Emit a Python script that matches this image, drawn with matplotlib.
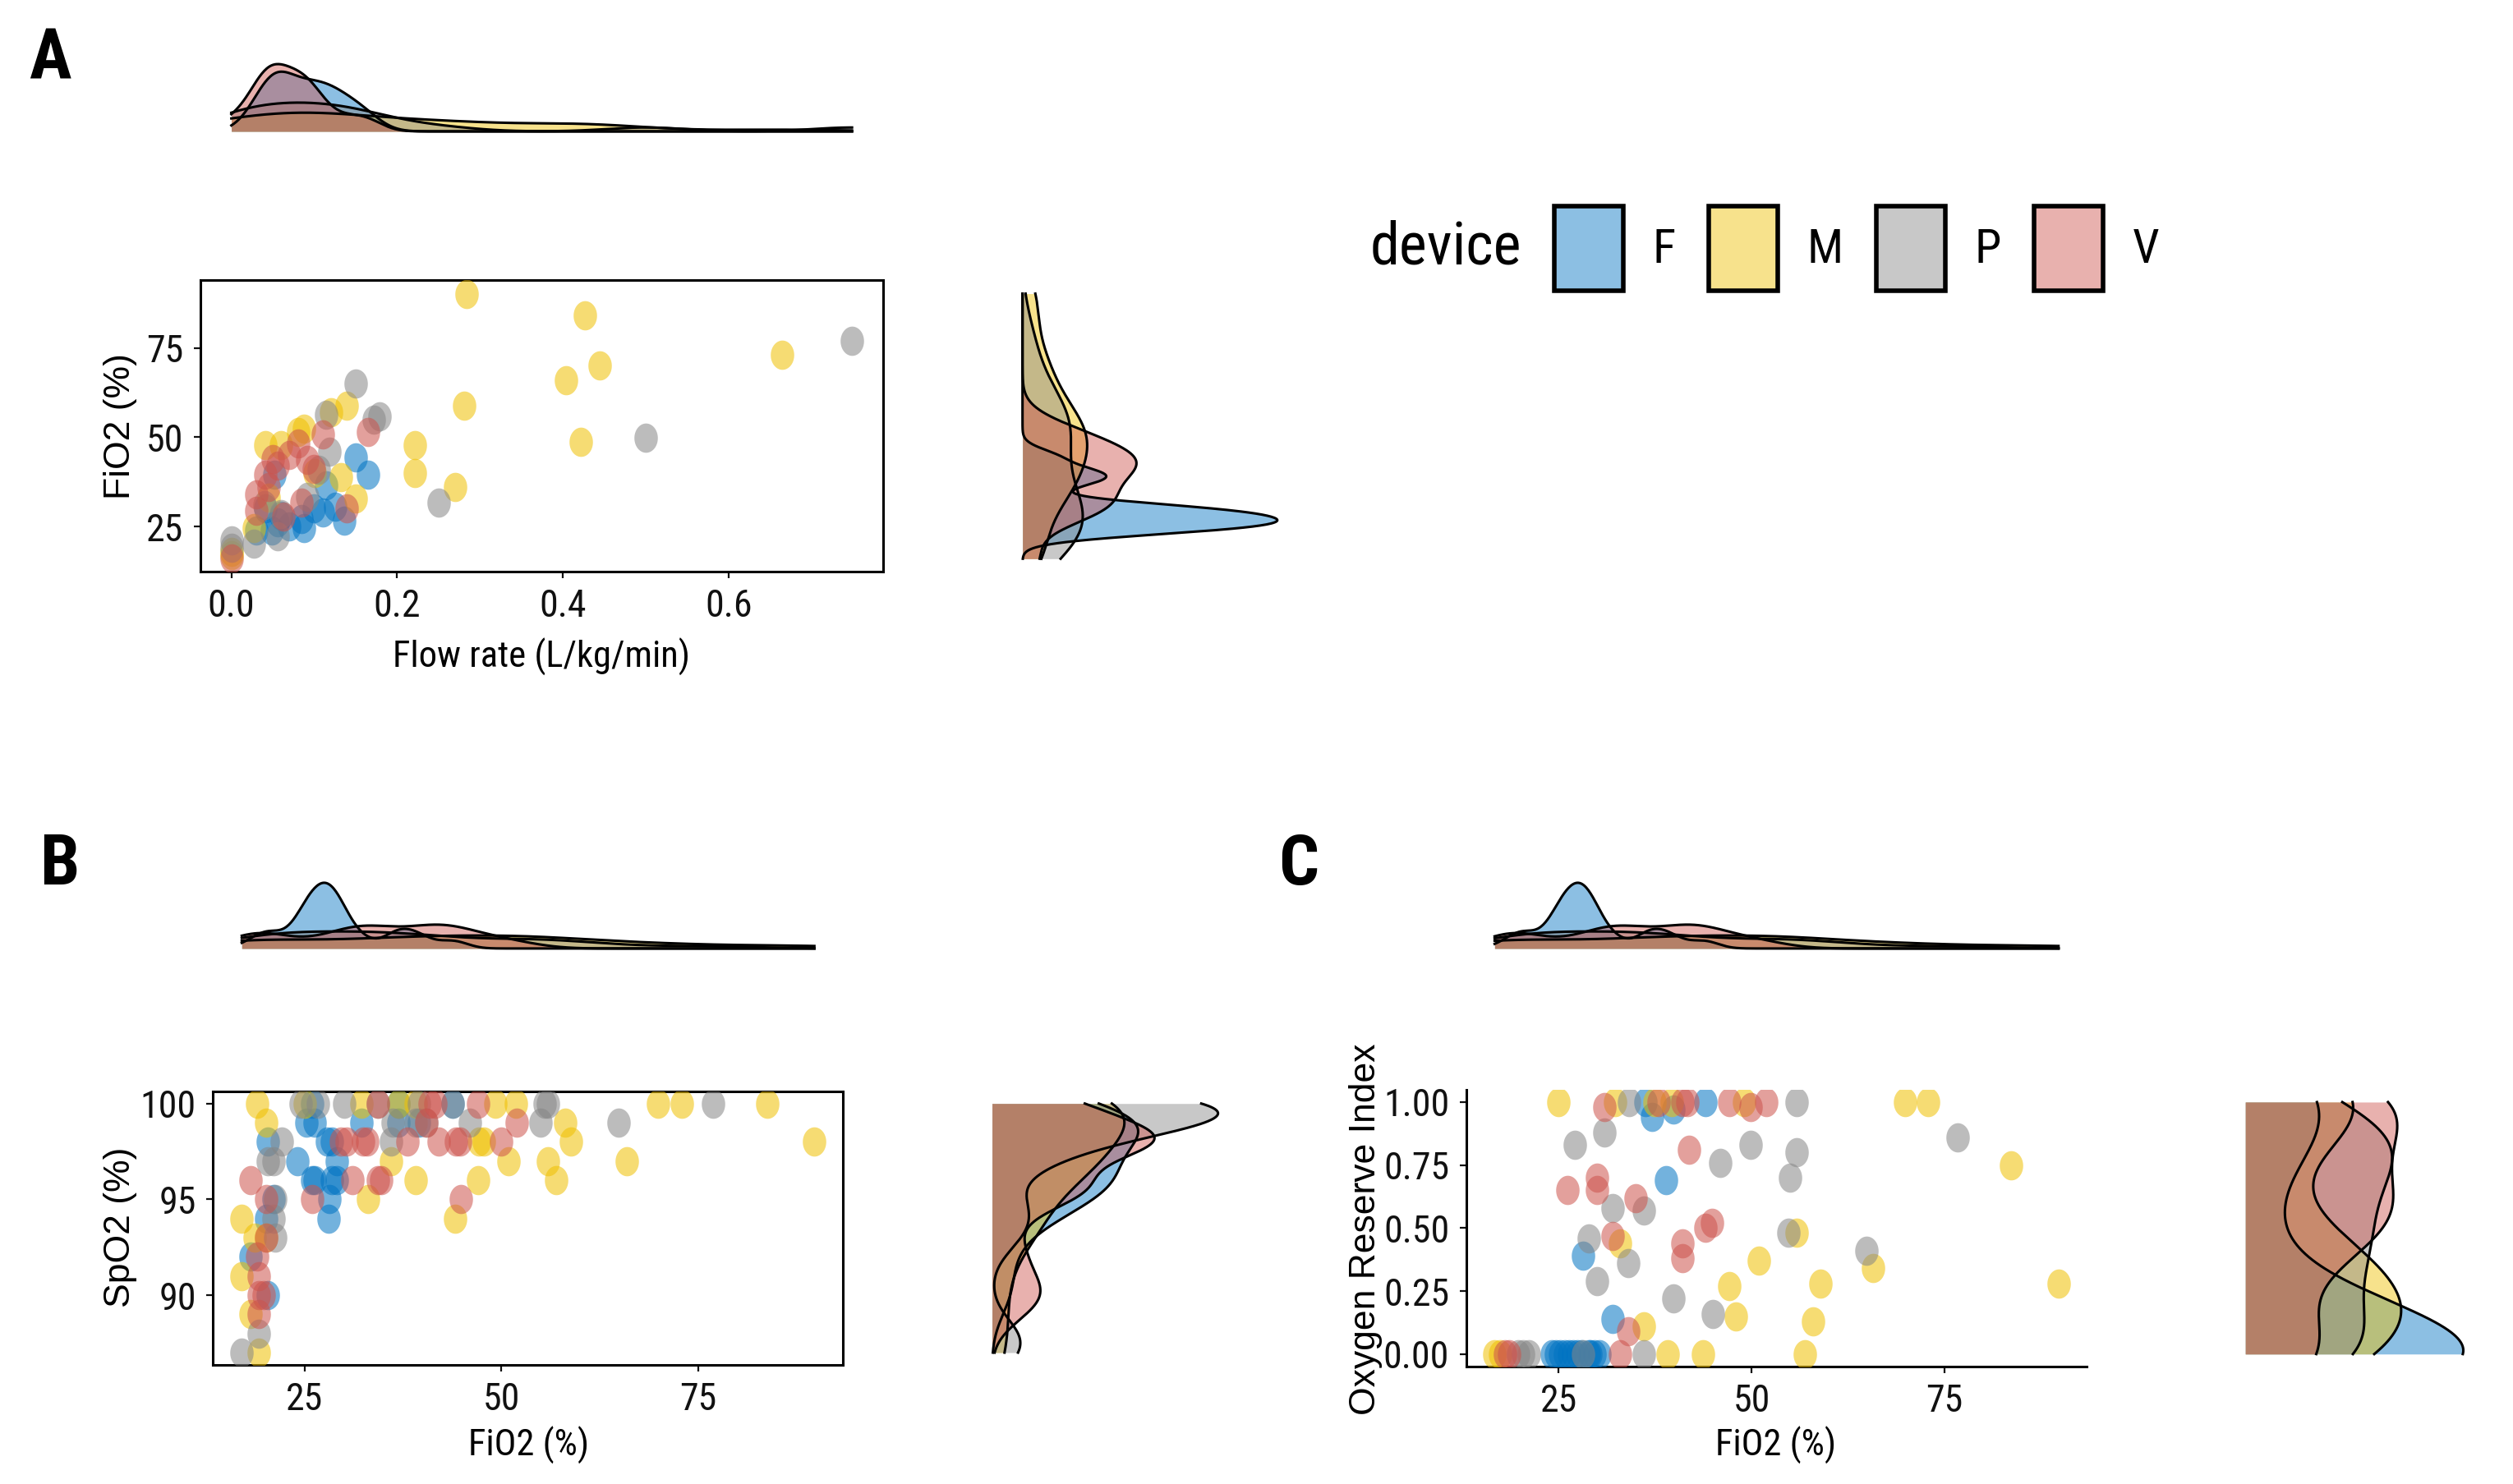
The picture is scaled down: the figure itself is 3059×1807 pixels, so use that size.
import numpy as np
import matplotlib
matplotlib.use('Agg')
import matplotlib.pyplot as plt
from matplotlib.patches import Patch
from matplotlib import font_manager
from matplotlib.colors import to_rgba

W, H = 3059, 1807
S = W / 1568  # layout below is measured on a 1568 px wide view

# ---- data ----
devices = ['F', 'M', 'P', 'V']
colors = ['#0073C2', '#EFC000', '#868686', '#CD534C']

# panel A: flow rate vs FiO2
flowA_F = [0.150, 0.165, 0.114, 0.085, 0.088, 0.125, 0.136, 0.056, 0.049, 0.041, 0.052, 0.099, 0.070, 0.060, 0.030, 0.110]
fio2A_F = [44.4, 39.6, 36.5, 27.0, 24.6, 30.5, 26.6, 26.2, 23.8, 30.1, 39.6, 30.1, 25.0, 28.0, 24.0, 29.0]
flowA_M = [0.284, 0.427, 0.665, 0.444, 0.404, 0.281, 0.422, 0.221, 0.221, 0.270, 0.139, 0.120, 0.088, 0.041,
           0.060, 0.081, 0.132, 0.150, 0.0, 0.027, 0.045, 0.100, 0.0]
fio2A_M = [90.2, 84.1, 73.0, 70.0, 65.9, 58.8, 48.7, 47.7, 40.0, 36.1, 58.8, 57.0, 52.3, 47.9,
           47.9, 51.5, 38.8, 32.9, 17.0, 24.6, 33.0, 40.0, 18.0]
flowA_P = [0.749, 0.500, 0.250, 0.150, 0.179, 0.172, 0.114, 0.118, 0.092, 0.056, 0.027, 0.0, 0.0, 0.060, 0.105, 0.040]
fio2A_P = [76.9, 49.9, 31.7, 65.0, 55.8, 55.0, 56.2, 45.9, 33.3, 22.2, 20.3, 21.1, 19.1, 28.6, 41.0, 31.0]
flowA_V = [0.165, 0.110, 0.081, 0.056, 0.041, 0.030, 0.030, 0.070, 0.092, 0.099, 0.139, 0.085, 0.063, 0.0, 0.050, 0.045]
fio2A_V = [51.5, 50.7, 48.3, 42.0, 39.6, 34.1, 29.3, 45.1, 43.6, 41.2, 30.1, 31.7, 27.8, 16.0, 44.0, 36.0]

# panel B: FiO2 vs SpO2
fio2B_F = [25.9, 36.9, 43.8, 25.2, 26.3, 32.2, 36.9, 39.5, 20.3, 27.8, 28.5, 24.1, 29.1,
           26.0, 26.3, 28.5, 29.1, 21.0, 28.1, 20.1, 28.0, 18.1, 20.3]
spo2B_F = [100, 100, 100, 99, 99, 99, 99, 99, 98, 98, 98, 97, 97,
           96, 96, 96, 96, 95, 95, 94, 94, 92, 90]
fio2B_M = [19.0, 25.0, 32.2, 36.9, 39.1, 49.2, 51.9, 69.9, 72.9, 83.8, 20.1, 58.1, 47.1, 47.8, 58.9, 89.8,
           36.0, 50.9, 55.9, 66.0, 39.1, 47.0, 57.0, 33.0, 17.0, 44.1, 18.6, 20.1, 17.0, 18.1, 19.2]
spo2B_M = [100, 100, 100, 100, 100, 100, 100, 100, 100, 100, 99, 99, 98, 98, 98, 98,
           97, 97, 97, 97, 96, 96, 96, 95, 94, 94, 93, 93, 91, 89, 87]
fio2B_P = [24.5, 26.7, 30.0, 34.3, 39.5, 43.8, 55.5, 55.9, 76.9, 36.2, 39.1, 40.5, 46.0, 55.0, 64.9,
           22.1, 36.0, 20.3, 21.0, 21.2, 21.0, 21.2, 19.2, 17.0]
spo2B_P = [100, 100, 100, 100, 100, 100, 100, 100, 100, 99, 99, 99, 99, 99, 99,
           98, 98, 97, 97, 95, 94, 93, 88, 87]
fio2B_V = [34.3, 40.9, 41.6, 47.0, 40.5, 52.0, 29.6, 30.3, 32.4, 32.9, 38.1, 42.0, 44.2, 44.8, 50.0,
           18.1, 31.1, 34.3, 34.7, 20.1, 26.0, 44.9, 20.1, 19.0, 19.2, 19.2, 19.8, 19.2]
spo2B_V = [100, 100, 100, 100, 99, 99, 98, 98, 98, 98, 98, 98, 98, 98, 98,
           96, 96, 96, 96, 95, 95, 95, 93, 92, 91, 90, 90, 89]

# panel C: FiO2 vs Oxygen Reserve Index (several F points stacked at 0)
fio2C_F = [36.3, 37.1, 39.9, 44.0, 38.9, 28.2, 32.0, 24.1, 25.2, 26.3, 28.9, 29.6, 30.3, 27.4,
           24.6, 25.8, 26.9, 27.9, 29.1]
oriC_F = [1.0, 0.94, 0.97, 1.0, 0.69, 0.39, 0.14, 0, 0, 0, 0, 0, 0, 0,
          0, 0, 0, 0, 0]
fio2C_M = [25.0, 32.3, 37.4, 39.7, 49.0, 69.9, 72.9, 83.7, 55.8, 33.0, 51.0, 65.8, 58.9, 89.8, 47.1,
           48.0, 58.0, 36.0, 16.7, 17.4, 39.1, 43.7, 56.9]
oriC_M = [1, 1, 1, 1, 1, 1, 1, 0.75, 0.48, 0.44, 0.37, 0.34, 0.28, 0.28, 0.27,
          0.15, 0.13, 0.11, 0, 0, 0, 0, 0]
fio2C_P = [34.1, 55.8, 30.9, 27.1, 49.9, 55.8, 76.7, 46.0, 55.0, 32.0, 36.0, 54.8, 28.9, 64.9, 34.0,
           30.0, 39.9, 45.0, 19.7, 20.4, 21.1, 28.2, 36.0]
oriC_P = [1, 1, 0.88, 0.83, 0.83, 0.80, 0.86, 0.76, 0.70, 0.58, 0.57, 0.48, 0.46, 0.41, 0.36,
          0.29, 0.22, 0.16, 0, 0, 0, 0, 0]
fio2C_V = [30.9, 38.0, 41.1, 41.7, 47.1, 49.9, 51.9, 41.9, 30.0, 30.0, 26.1, 35.0, 44.9, 44.0, 32.0,
           41.0, 41.0, 34.0, 18.0, 18.6, 33.0]
oriC_V = [0.98, 1, 1, 1, 1, 0.98, 1, 0.81, 0.70, 0.65, 0.65, 0.62, 0.52, 0.50, 0.47,
          0.44, 0.38, 0.09, 0, 0, 0]

# ---- fonts ----
names = {f.name for f in font_manager.fontManager.ttflist}
narrow = 'Roboto Condensed' if 'Roboto Condensed' in names else 'Liberation Sans'
plt.rcParams['font.family'] = [narrow, 'DejaVu Sans']


def rect(x0, y0, x1, y1):
    # box in view px (top-left origin) -> figure fraction
    return [x0 * S / W, 1 - y1 * S / H, (x1 - x0) * S / W, (y1 - y0) * S / H]


def fx(x):
    return x * S / W


def fy(y):
    return 1 - y * S / H


def bw_nrd0(x):
    x = np.asarray(x, float)
    hi = x.std(ddof=1)
    q75, q25 = np.percentile(x, [75, 25])
    lo = min(hi, (q75 - q25) / 1.34)
    if lo == 0:
        lo = hi or abs(x[0]) or 1
    return 0.9 * lo * len(x) ** (-0.2)


def kde(x, grid):
    x = np.asarray(x, float)
    bw = bw_nrd0(x)
    z = (grid[:, None] - x[None, :]) / bw
    return np.exp(-0.5 * z ** 2).sum(1) / (len(x) * bw * np.sqrt(2 * np.pi))


def limits(groups):
    allv = np.concatenate([np.asarray(g, float) for g in groups])
    lo, hi = allv.min(), allv.max()
    pad = 0.05 * (hi - lo)
    return lo, hi, (lo - pad, hi + pad)


t = np.linspace(0, 2 * np.pi, 48)
ellipse = np.column_stack([0.8 * np.cos(t), np.sin(t)])

fig = plt.figure(figsize=(W / 100, H / 100), dpi=100)


def panel(sbox, tbox, rbox, xs, ys, xt, yt, yfmt, full_box, top_xs=None):
    ax = fig.add_axes(rect(*sbox))
    for x, y, c in zip(xs, ys, colors):
        ax.scatter(x, y, s=660, marker=ellipse, color=c, alpha=0.55, linewidths=0, zorder=3)
    xlo, xhi, xlim = limits(xs)
    ylo, yhi, ylim = limits(ys)
    ax.set_xlim(xlim)
    ax.set_ylim(ylim)
    ax.set_xticks(xt)
    ax.set_yticks(yt)
    ax.set_yticklabels([yfmt.format(v) for v in yt])
    ax.tick_params(direction='out', length=6, width=1.6, labelsize=33, colors='#111111')
    ax.tick_params(axis='y', pad=9)
    ax.tick_params(axis='x', pad=8)
    for s in ax.spines.values():
        s.set_linewidth(2.2)
    if not full_box:
        ax.spines['top'].set_visible(False)
        ax.spines['right'].set_visible(False)

    # top density
    axt = fig.add_axes(rect(*tbox))
    gx = np.linspace(xlo, xhi, 512)
    dmax = 0
    for x, c in zip(top_xs or xs, colors):
        d = kde(x, gx)
        dmax = max(dmax, d.max())
        axt.fill_between(gx, 0, d, color=c, alpha=0.45, linewidth=0)
        axt.plot(gx, d, color='black', lw=2.2, clip_on=False)
    axt.set_xlim(xlim)
    axt.set_ylim(0, dmax)
    axt.axis('off')

    # right density
    axr = fig.add_axes(rect(*rbox))
    gy = np.linspace(ylo, yhi, 512)
    dmax = 0
    for y, c in zip(ys, colors):
        d = kde(y, gy)
        dmax = max(dmax, d.max())
        axr.fill_betweenx(gy, 0, d, color=c, alpha=0.45, linewidth=0)
        axr.plot(d, gy, color='black', lw=2.2, clip_on=False)
    axr.set_ylim(ylim)
    axr.set_xlim(0, dmax)
    axr.axis('off')
    return ax


# FiO2 marginal shared by B and C
fio2_pool = [fio2B_F + fio2C_F, fio2B_M + fio2C_M, fio2B_P + fio2C_P, fio2B_V + fio2C_V]

panel((125, 175, 551, 357), (125, 40, 551, 82), (638, 175, 797, 357),
      [flowA_F, flowA_M, flowA_P, flowA_V], [fio2A_F, fio2A_M, fio2A_P, fio2A_V],
      [0.0, 0.2, 0.4, 0.6], [25, 50, 75], '{:g}', True)
panel((133, 681, 526, 852), (133, 551, 526, 592), (619, 681, 760, 852),
      [fio2B_F, fio2B_M, fio2B_P, fio2B_V], [spo2B_F, spo2B_M, spo2B_P, spo2B_V],
      [25, 50, 75], [90, 95, 100], '{:g}', True, fio2_pool)
panel((915, 680, 1302, 853), (915, 551, 1302, 592), (1401, 680, 1537, 853),
      [fio2C_F, fio2C_M, fio2C_P, fio2C_V], [oriC_F, oriC_M, oriC_P, oriC_V],
      [25, 50, 75], [0.0, 0.25, 0.5, 0.75, 1.0], '{:.2f}', False, fio2_pool)

# axis titles
fig.text(fx(338), fy(410), 'Flow rate (L/kg/min)', fontsize=32, ha='center', va='center')
fig.text(fx(330), fy(902), 'FiO2 (%)', fontsize=32, ha='center', va='center')
fig.text(fx(1108), fy(902), 'FiO2 (%)', fontsize=32, ha='center', va='center')
yl = dict(fontsize=32, ha='center', va='center', rotation=90, family=['Liberation Sans', 'DejaVu Sans'])
fig.text(fx(75), fy(266), 'FiO2 (%)', **yl)
fig.text(fx(75), fy(766), 'SpO2 (%)', **yl)
fig.text(fx(852), fy(767), 'Oxygen Reserve Index', **yl)

# panel letters
for lab, x, y in [('A', 31, 37), ('B', 37, 540), ('C', 810, 540)]:
    fig.text(fx(x), fy(y), lab, fontsize=62, fontweight='bold', ha='center', va='center')

# legend
fig.text(fx(855), fy(155), 'device', fontsize=52, ha='left', va='center')
handles = [Patch(facecolor=to_rgba(c, 0.45), edgecolor='black', linewidth=4) for c in colors]
fig.legend(handles, devices, loc='center left', bbox_to_anchor=(fx(970), fy(155)),
           ncol=4, frameon=False, fontsize=42, handlelength=1.44, handleheight=2.34,
           handletextpad=0.6, columnspacing=0.7, borderpad=0, borderaxespad=0)

fig.savefig('out.png', dpi=100, facecolor='white')
